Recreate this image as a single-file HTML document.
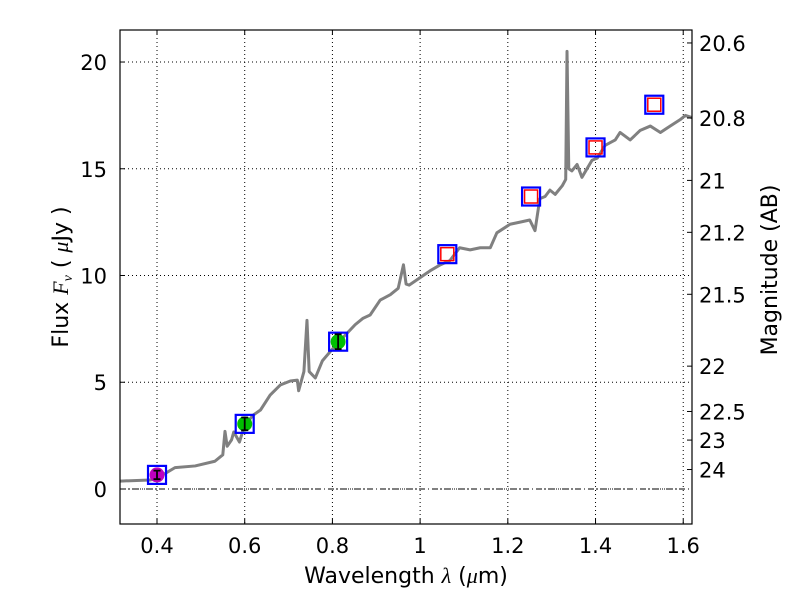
<!DOCTYPE html>
<html><head><meta charset="utf-8"><style>
body{margin:0;background:#fff}
svg{display:block;font-family:"DejaVu Sans","Liberation Sans",sans-serif}
</style></head><body>
<svg id="chart" width="800" height="600"></svg>
<script>
const specLam=[0.316,0.384,0.4,0.441,0.487,0.532,0.55,0.555,0.56,0.57,0.575,0.588,0.6,0.62,0.636,0.658,0.681,0.704,0.72,0.723,0.735,0.742,0.747,0.761,0.777,0.806,0.829,0.852,0.87,0.886,0.909,0.932,0.95,0.962,0.968,0.975,1.0,1.025,1.046,1.068,1.09,1.114,1.137,1.16,1.175,1.205,1.228,1.25,1.262,1.273,1.285,1.296,1.308,1.324,1.332,1.335,1.339,1.346,1.358,1.369,1.392,1.404,1.422,1.445,1.456,1.479,1.502,1.525,1.548,1.57,1.593,1.605,1.62];
const specFlux=[0.37,0.42,0.5,1.0,1.08,1.3,1.6,2.7,2.0,2.3,2.67,2.2,3.0,3.47,3.7,4.4,4.87,5.06,5.1,4.6,5.5,7.9,5.5,5.2,6.0,6.7,7.2,7.7,8.0,8.15,8.85,9.1,9.4,10.5,9.6,9.55,9.9,10.25,10.5,10.7,11.3,11.2,11.3,11.3,12.0,12.4,12.5,12.6,12.1,13.6,13.7,14.0,13.8,14.2,14.5,20.5,15.0,14.9,15.2,14.6,15.4,15.5,16.1,16.35,16.7,16.35,16.8,17.0,16.7,17.0,17.3,17.5,17.4];
const photLam=[0.4,0.6,0.813];
const photFlux=[0.66,3.05,6.9];
const photErr=[0.2,0.3,0.35];
const photColor=['#bf00bf','#00bf00','#00bf00'];
const modelLam=[0.4,0.6,0.813,1.062,1.253,1.40,1.534];
const modelFlux=[0.66,3.05,6.9,11.0,13.7,16.0,18.0];
const upLam=[1.062,1.253,1.40,1.534];
const upFlux=[11.0,13.7,16.0,18.0];
const xTicks=[0.4,0.6,0.8,1.0,1.2,1.4,1.6];
const xTickLabels=['0.4','0.6','0.8','1','1.2','1.4','1.6'];
const yTicks=[0,5,10,15,20];
const magTicks=[20.6,20.8,21,21.2,21.5,22,22.5,23,24];
const magLabels=['20.6','20.8','21','21.2','21.5','22','22.5','23','24'];

const L=120,R=692,T=30,B=524;
const x0=0.3156,x1=1.62,y0=-1.64,y1=21.5;
const X=v=>L+(v-x0)/(x1-x0)*(R-L);
const Y=v=>B-(v-y0)/(y1-y0)*(B-T);
const NS='http://www.w3.org/2000/svg';
const svg=document.getElementById('chart');
function mk(tag,attrs,parent){const e=document.createElementNS(NS,tag);for(const k in attrs)e.setAttribute(k,attrs[k]);(parent||svg).appendChild(e);return e;}
const clip=mk('clipPath',{id:'pc'});mk('rect',{x:L,y:T,width:R-L,height:B-T},clip);
const g=mk('g',{'clip-path':'url(#pc)'});
xTicks.forEach((v,i)=>{const l=mk('line',{x1:X(v),x2:X(v),y1:T,y2:B,stroke:'#000','stroke-width':1,'stroke-dasharray':'1,3'},g);

});
yTicks.forEach(v=>{const l=mk('line',{x1:L,x2:R,y1:Y(v),y2:Y(v),stroke:'#000','stroke-width':1,'stroke-dasharray':'1,3'},g);

});
const zl=mk('line',{x1:L,x2:R,y1:Y(0),y2:Y(0),stroke:'#000','stroke-width':1,'stroke-dasharray':'6,3,1,3'},g);


const sp=mk('polyline',{points:specLam.map((l,i)=>X(l)+','+Y(specFlux[i])).join(' '),fill:'none',stroke:'#808080','stroke-width':3,'stroke-linejoin':'round'},g);


modelLam.forEach((l,i)=>{const r=mk('rect',{x:X(l)-9,y:Y(modelFlux[i])-9,width:18,height:18,fill:'none',stroke:'#0000ff','stroke-width':2.2},g);

});
upLam.forEach((l,i)=>{const r=mk('rect',{x:X(l)-6.5,y:Y(upFlux[i])-6.5,width:13,height:13,fill:'none',stroke:'#ff0000','stroke-width':1.5},g);

});
photLam.forEach((l,i)=>{const cx=X(l),cy=Y(photFlux[i]);
const c=mk('circle',{cx:cx,cy:cy,r:7.5,fill:photColor[i]},g);


const e1=Y(photFlux[i]+photErr[i]),e2=Y(photFlux[i]-photErr[i]);
const eb=mk('path',{d:`M${cx},${e1}V${e2}M${cx-3.5},${e1}H${cx+3.5}M${cx-3.5},${e2}H${cx+3.5}`,stroke:'#000','stroke-width':1.8,fill:'none'},g);

});
const fr=mk('rect',{x:L,y:T,width:R-L,height:B-T,fill:'none',stroke:'#000','stroke-width':1.2});


xTicks.forEach((v,i)=>{mk('line',{x1:X(v),x2:X(v),y1:B,y2:B-5,stroke:'#000'});mk('line',{x1:X(v),x2:X(v),y1:T,y2:T+5,stroke:'#000'});
const t=mk('text',{x:X(v),y:B+29,'font-size':21,'text-anchor':'middle'});t.textContent=xTickLabels[i];

});
yTicks.forEach(v=>{mk('line',{x1:L,x2:L+5,y1:Y(v),y2:Y(v),stroke:'#000'});
const t=mk('text',{x:L-13,y:Y(v)+8,'font-size':21,'text-anchor':'end'});t.textContent=String(v);

});
magTicks.forEach((m,i)=>{const f=Math.pow(10,(23.9-m)/2.5);const y=Y(f);
mk('line',{x1:R,x2:R-5,y1:y,y2:y,stroke:'#000'});
const t=mk('text',{x:R+7,y:y+8,'font-size':21});t.textContent=magLabels[i];

});
const xt=mk('text',{x:406,y:583,'font-size':22,'text-anchor':'middle'});xt.innerHTML='Wavelength  <tspan font-style="italic" font-family="Liberation Serif,serif">λ</tspan> (<tspan font-style="italic" font-family="Liberation Serif,serif">μ</tspan>m)';


const yt=mk('text',{x:0,y:0,'font-size':22,'text-anchor':'middle',transform:'translate(68,277) rotate(-90)'});yt.innerHTML='Flux  <tspan font-style="italic" font-family="Liberation Serif,serif">F</tspan><tspan font-style="italic" font-size="14" dy="4" font-family="Liberation Serif,serif">ν</tspan><tspan dy="-4">  (  </tspan><tspan font-style="italic" font-family="Liberation Serif,serif">μ</tspan>Jy )';


const rt=mk('text',{x:0,y:0,'font-size':22,'text-anchor':'middle',transform:'translate(777,270) rotate(-90)'});rt.textContent='Magnitude (AB)';


</script>
</body></html>
